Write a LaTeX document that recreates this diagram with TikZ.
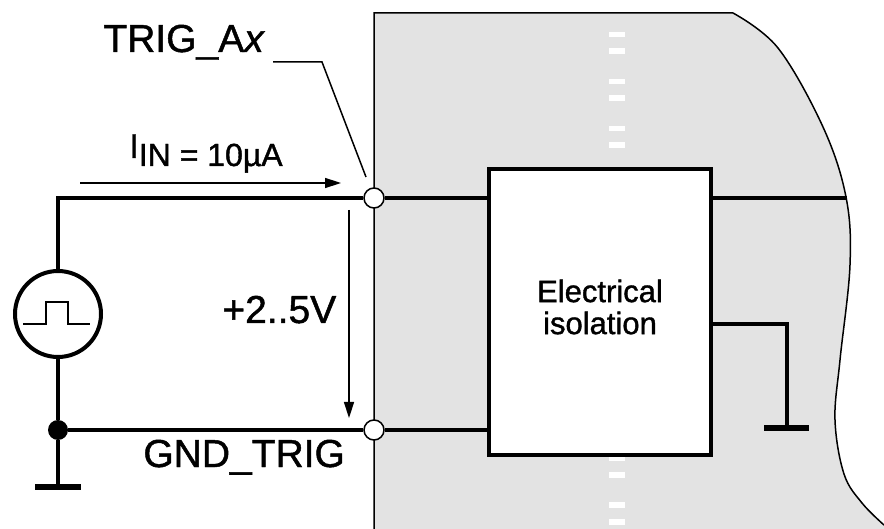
\documentclass[tikz,border=0pt]{standalone}
\usepackage{fontspec}
\setmainfont{Liberation Sans}
\newfontfamily\labelfont{Liberation Sans}[FakeBold=1.2]
\usetikzlibrary{arrows.meta}
\definecolor{panelgray}{HTML}{E3E3E3}

\tikzset{
    wire/.style = {line width=2.3pt},
    gndwire/.style = {line width=1.6pt},
    thinline/.style = {line width=0.75pt},
    gndbar/.style = {line width=3.2pt},
    term/.style = {circle, draw, fill=white, line width=0.75pt, minimum size=10pt, inner sep=0pt},
    junc/.style = {circle, fill=black, minimum size=10pt, inner sep=0pt},
    pulsesrc/.style = {circle, draw, line width=2pt, minimum size=43pt, inner sep=0pt},
    isobox/.style = {rectangle, draw, fill=white, line width=2.3pt, minimum width=111pt, minimum height=143pt},
    lbl/.style = {inner sep=0pt, font=\labelfont\fontsize{19.5}{22}\selectfont},
    tip/.style = {-{Triangle[length=8pt, width=5pt]}}
}

\begin{document}
\begin{tikzpicture}[x = 0.5pt, y = -0.5pt]
    \useasboundingbox (0,0) rectangle (884,529);
    \fill[panelgray] (374,529) -- (374,13) -- (733,13) -- plot[smooth, tension=0.6] coordinates {(733,13) (778,48) (823,127) (846,197) (850,265) (840,360) (835,420) (844,474) (862,503) (884,525)} -- (884,529) -- cycle;
    \draw[thinline] (374,529) -- (374,13) -- (733,13) -- plot[smooth, tension=0.6] coordinates {(733,13) (778,48) (823,127) (846,197) (850,265) (840,360) (835,420) (844,474) (862,503) (884,525)};
    \draw[white, line width=8pt, dash pattern=on 2.75pt off 5.5pt on 3pt off 12.25pt] (617,32) -- (617,529);

    \node[pulsesrc] (SRC) at (58,314) {};
    \draw[thinline] ([shift={(-35,10)}]SRC.center) -- ++(23,0) -- ++(0,-22) -- ++(22,0) -- ++(0,22) -- ++(22,0);
    \node[term] (TA) at (374,198) {};
    \node[term] (TG) at (374,430) {};
    \node[junc] (J1) at (58,430) {};
    \node[isobox] (ISO) at (600,312) {};
    \node[lbl, align=center, font=\labelfont\fontsize{15.5}{16}\selectfont] (ISOTXT) at (600,307) {Electrical\\isolation};
    \coordinate (C1) at (58,198);
    \coordinate (G1) at (58,487);
    \coordinate (E1) at (847,198);
    \coordinate (R1) at (787,324);
    \coordinate (G2) at (787,428);

    \draw[wire] (SRC.north) -- (C1) -- (TA);
    \draw[wire] (TA) -- (TA -| ISO.west);
    \draw[wire] (SRC.south) -- (J1) -- (TG);
    \draw[wire] (TG) -- (TG -| ISO.west);
    \draw[wire] (J1) -- (G1);
    \draw[gndbar] ([shift={(-23,0)}]G1) -- ([shift={(23,0)}]G1);
    \draw[wire] (E1 -| ISO.east) -- (E1);
    \draw[gndwire] (R1 -| ISO.east) -- (R1) -- (G2);
    \draw[gndbar] ([shift={(-23,0)}]G2) -- ([shift={(22,0)}]G2);

    \coordinate (IA0) at (80,183);
    \coordinate (IA1) at (341,183);
    \draw[thinline, tip] (IA0) -- (IA1);
    \coordinate (VA0) at (349,210);
    \coordinate (VA1) at (349,418);
    \draw[thinline, tip] (VA0) -- (VA1);
    \coordinate (L0) at (273,62);
    \coordinate (L1) at (322,62);
    \coordinate (L2) at (366,177);
    \draw[thinline] (L0) -- (L1) -- (L2);

    \node[lbl, anchor=base west] (TRIGA) at (103,52) {TRIG\_A\textit{x}};
    \node[lbl, anchor=base west] (IIN) at (129,158) {\fontsize{17}{18}\selectfont I\raisebox{-4pt}{\fontsize{16}{18}\selectfont IN = 10µA}};
    \node[lbl, anchor=base west] (VIN) at (222,323) {+2..5V};
    \node[lbl, anchor=base west] (GNDT) at (143,467) {GND\_TRIG};
\end{tikzpicture}
\end{document}
